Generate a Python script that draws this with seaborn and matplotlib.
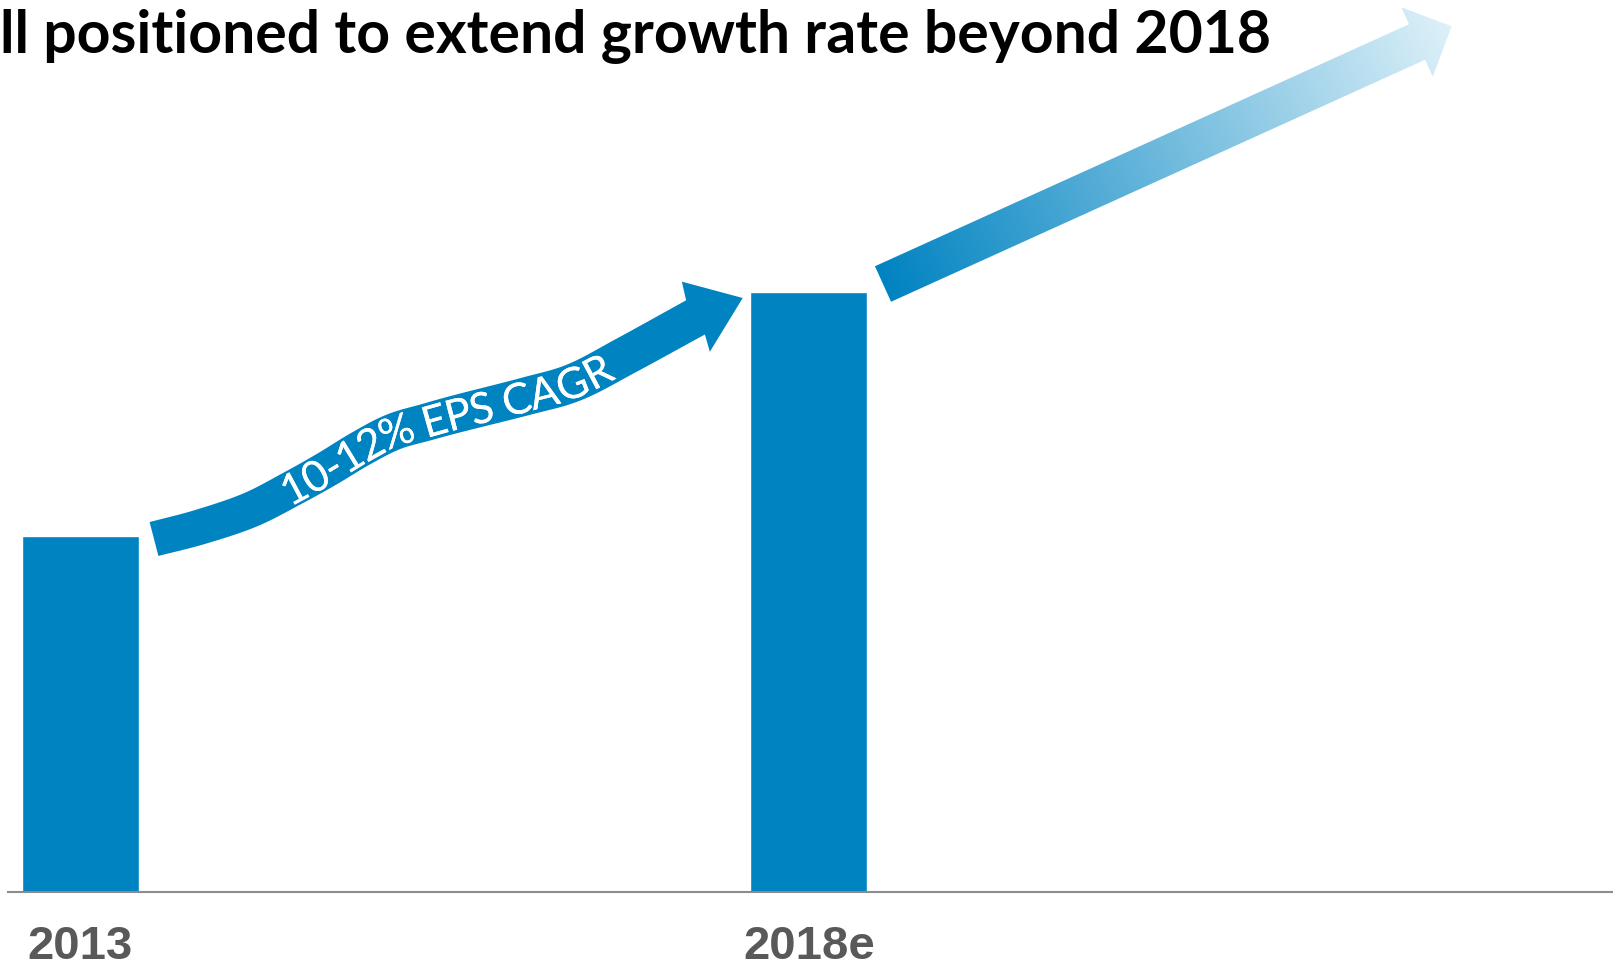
import numpy as np
import matplotlib
matplotlib.use("Agg")
import matplotlib.pyplot as plt
import seaborn as sns
import pandas as pd
from matplotlib.patches import Polygon
from matplotlib import patheffects as pe

# ---------------- data ----------------
years = ["2013", "2018e"]
eps_index = [1.00, 1.685]          # EPS indexed to 2013 (10-12% CAGR over 5 years)
title_text = "ll positioned to extend growth rate beyond 2018"
cagr_label = "10-12% EPS CAGR"

# ---------------- style ----------------
W, H, DPI = 1613, 970, 100
BLUE = np.array([0, 131, 193]) / 255
LIGHT = np.array([222, 241, 249]) / 255
GRAY_TXT = "#595959"
BASE_GRAY = "#8C8C8C"

sns.set_theme(style="white")
plt.rcParams["font.family"] = ["Lato", "DejaVu Sans"]

fig = plt.figure(figsize=(W / DPI, H / DPI), dpi=DPI)
fig.patch.set_facecolor("white")

# ---------------- main bar axes ----------------
ax_left_px, base_px, top_px = 7.5, 893, 80
unit_px_x = 728.5      # distance between the two category slots
unit_px_y = 356        # pixels per index unit
first_center_px = 80.5
ax = fig.add_axes([ax_left_px / W, 1 - base_px / H, (W - ax_left_px) / W, (base_px - top_px) / H])
df = pd.DataFrame({"year": years, "eps": eps_index})
sns.barplot(data=df, x="year", y="eps", color=BLUE, saturation=1, width=117 / unit_px_x,
            errorbar=None, ax=ax)
ax.set_xlim((ax_left_px - first_center_px) / unit_px_x, (W - first_center_px) / unit_px_x)
ax.set_ylim(0, (base_px - top_px) / unit_px_y)
for s in ["left", "top", "right"]:
    ax.spines[s].set_visible(False)
ax.spines["bottom"].set_color(BASE_GRAY)
ax.spines["bottom"].set_linewidth(1.5)
ax.set_yticks([])
ax.set_xlabel("")
ax.set_ylabel("")
ax.set_facecolor("none")
ax.set_xticks(range(len(years)), labels=years, fontsize=34, fontweight="bold",
              color=GRAY_TXT, family=["Liberation Sans", "DejaVu Sans"])
ax.tick_params(axis="x", length=0, pad=23)

# ---------------- overlay (pixel coordinates, y downward) ----------------
ov = fig.add_axes([0, 0, 1, 1], zorder=5)
ov.set_xlim(0, W)
ov.set_ylim(H, 0)
ov.axis("off")

renderer = fig.canvas.get_renderer()

# Title, fitted to its measured width
title_base_y = 53.3
title_right = 1271
tt = fig.text(0, 1 - title_base_y / H, title_text, ha="left", va="baseline",
              fontsize=40, fontweight="bold", color="black", family=["Lato", "DejaVu Sans"])
w0 = tt.get_window_extent(renderer).width
tt.set_fontsize(40 * title_right / w0)


def catmull_rom(P, n=40):
    P = np.asarray(P, float)
    ext = np.vstack([2 * P[0] - P[1], P, 2 * P[-1] - P[-2]])
    out = []
    t = np.linspace(0, 1, n, endpoint=False)[:, None]
    for i in range(1, len(ext) - 2):
        p0, p1, p2, p3 = ext[i - 1:i + 3]
        pts = 0.5 * ((2 * p1) + (-p0 + p2) * t + (2 * p0 - 5 * p1 + 4 * p2 - p3) * t ** 2
                     + (-p0 + 3 * p1 - 3 * p2 + p3) * t ** 3)
        out.append(pts)
    out.append(P[-1:])
    return np.vstack(out)


# ---- curved (wavy) arrow between the bars ----
center_pts = [(154, 540), (200, 528), (250, 511), (293, 489), (327, 470), (360, 450),
              (393, 433), (427, 423), (460, 414), (527, 397), (575, 383), (627, 356),
              (695.5, 318.4)]
C = catmull_rom(center_pts)
T = np.gradient(C, axis=0)
T /= np.linalg.norm(T, axis=1)[:, None]
NUP = np.column_stack([T[:, 1], -T[:, 0]])
hw = np.linspace(17.5, 19.5, len(C))[:, None]
upper = C + NUP * hw
lower = C - NUP * hw

head_tip = np.array([742.7, 299.0])
head_mid = np.array([695.85, 317.7])
hd = (head_tip - head_mid) / np.linalg.norm(head_tip - head_mid)
hn = np.array([hd[1], -hd[0]])
head_half = 37.75
poly = np.vstack([upper, head_mid + hn * head_half, head_tip, head_mid - hn * head_half, lower[::-1]])
ov.add_patch(Polygon(poly, closed=True, facecolor=BLUE, edgecolor="none", zorder=2))

# text following the curve
seg = np.linalg.norm(np.diff(C, axis=0), axis=1)
S = np.concatenate([[0], np.cumsum(seg)])
s_start = np.interp(283, C[:, 0], S)
s_end = np.interp(609, C[:, 0], S)


def text_w(s, fs):
    t = ov.text(0, 0, s, fontsize=fs, family=["Lato", "DejaVu Sans"])
    w = t.get_window_extent(renderer).width
    t.remove()
    return w


def widths(fs):
    ws = []
    for ch in cagr_label:
        if ch == " ":
            ws.append(text_w("a a", fs) - text_w("aa", fs))
        else:
            ws.append(text_w(ch, fs))
    return np.array(ws)

fs = 31
ws = widths(fs)
scale = (s_end - s_start) / ws.sum()
cap = 0.717 * fs * DPI / 72
cum = np.concatenate([[0], np.cumsum(ws)[:-1]])
for ch, w, c0 in zip(cagr_label, ws, cum):
    sc = s_start + (c0 + w / 2) * scale
    x = np.interp(sc, S, C[:, 0])
    y = np.interp(sc, S, C[:, 1])
    tx = np.interp(sc, S, T[:, 0])
    ty = np.interp(sc, S, T[:, 1])
    n_up = np.array([ty, -tx]) / np.hypot(tx, ty)
    p = np.array([x, y]) - n_up * (cap / 2)
    ang = np.degrees(np.arctan2(-ty, tx))
    ov.text(p[0], p[1], ch, fontsize=fs, color="white", family=["Lato", "DejaVu Sans"],
            ha="center", va="baseline", rotation=ang, rotation_mode="anchor", zorder=4,
            path_effects=[pe.withStroke(linewidth=2.2, foreground=BLUE), pe.Normal()])

# ---- gradient arrow beyond 2018 ----
g_tail = np.array([883.0, 285.0])
g_tip = np.array([1451.7, 27.3])
L = np.linalg.norm(g_tip - g_tail)
u = (g_tip - g_tail) / L
nu = np.array([u[1], -u[0]])
g_hw, g_head_len, g_head_half = 19.5, 38.0, 38.0
g_base = g_tip - u * g_head_len
gpoly = np.vstack([g_tail + nu * g_hw, g_base + nu * g_hw, g_base + nu * g_head_half, g_tip,
                   g_base - nu * g_head_half, g_base - nu * g_hw, g_tail - nu * g_hw])
clip = Polygon(gpoly, closed=True, facecolor="none", edgecolor="none")
ov.add_patch(clip)
x0, x1 = gpoly[:, 0].min() - 2, gpoly[:, 0].max() + 2
y0, y1 = gpoly[:, 1].min() - 2, gpoly[:, 1].max() + 2
xs = np.linspace(x0, x1, 700)
ys = np.linspace(y0, y1, 350)
X, Y = np.meshgrid(xs, ys)
tt_ = np.clip(((X - g_tail[0]) * u[0] + (Y - g_tail[1]) * u[1]) / L, 0, 1)[..., None]
img = BLUE * (1 - tt_) + LIGHT * tt_
im = ov.imshow(img, extent=(x0, x1, y1, y0), origin="upper", aspect="auto",
               interpolation="bilinear", zorder=3)
im.set_clip_path(clip)
ov.set_xlim(0, W)
ov.set_ylim(H, 0)

fig.savefig("out.png", dpi=DPI, facecolor="white")
